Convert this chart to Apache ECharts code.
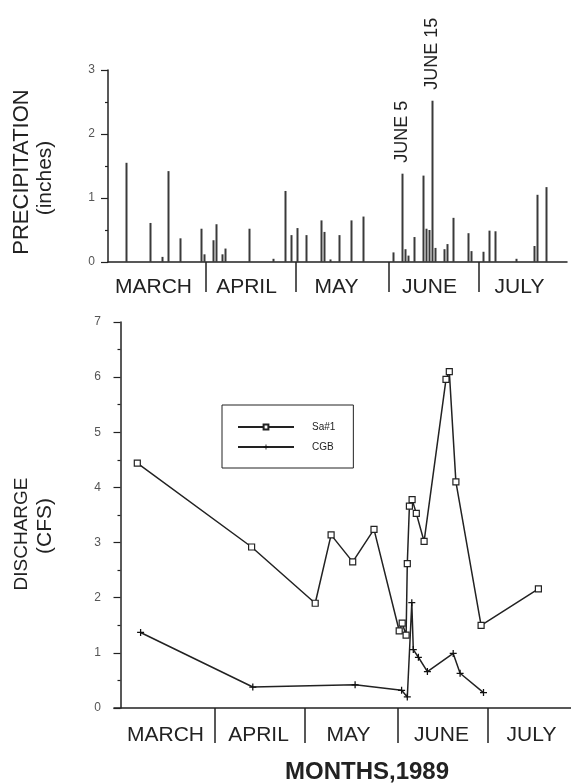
<!DOCTYPE html>
<html><head><meta charset="utf-8">
<script src="https://cdn.jsdelivr.net/npm/echarts@6/dist/echarts.min.js"></script>
<style>html,body{margin:0;padding:0;background:#fff}#c{width:571px;height:784px}</style>
</head><body><div id="c"></div>
<script>
// ---- data ----
const monthNames = ['MARCH', 'APRIL', 'MAY', 'JUNE', 'JULY'];
const monthDays = [31, 30, 31, 30, 31];
// day of season: March 1 = day 1
const precipDays = [5, 13, 17, 19, 23, 30, 31, 34, 35, 37, 38, 46, 54, 58, 60, 62, 65, 70, 71, 73, 76, 80, 84,
  94, 97, 98, 99, 101, 104, 105, 106, 107, 108, 111, 112, 114, 119, 120, 124, 126, 128, 135, 141, 142, 145];
const precipValues = [1.55, 0.61, 0.08, 1.42, 0.37, 0.52, 0.12, 0.34, 0.59, 0.12, 0.21, 0.52, 0.05, 1.11, 0.42, 0.53, 0.42, 0.65, 0.47, 0.04, 0.42, 0.65, 0.71,
  0.15, 1.38, 0.20, 0.10, 0.39, 1.35, 0.52, 0.50, 2.52, 0.22, 0.20, 0.28, 0.69, 0.45, 0.17, 0.16, 0.49, 0.48, 0.05, 0.25, 1.05, 1.17];
const noteDays = [97, 107];
const noteTexts = ['JUNE 5', 'JUNE 15'];
const sa1Days = [5.6, 43.7, 64.9, 70.2, 77.4, 84.5, 92.9, 93.9, 95.2, 95.6, 96.3, 97.2, 98.6, 101.2, 108.5, 109.6, 111.8, 120.2, 139.3];
const sa1Values = [4.44, 2.92, 1.90, 3.14, 2.65, 3.24, 1.40, 1.54, 1.32, 2.62, 3.66, 3.78, 3.53, 3.02, 5.96, 6.10, 4.10, 1.50, 2.16];
const cgbDays = [6.7, 44.1, 78.2, 93.7, 95.6, 97.1, 97.6, 99.3, 102.3, 110.9, 113.2, 121.0];
const cgbValues = [1.37, 0.38, 0.42, 0.32, 0.20, 1.91, 1.06, 0.92, 0.66, 0.99, 0.63, 0.28];
const precipTicks = [0, 1, 2, 3];
const dischargeTicks = [0, 1, 2, 3, 4, 5, 6, 7];

// ---- derived ----
const totalDays = monthDays.reduce((a, b) => a + b, 0);
const dayCats = [];
for (let i = 1; i <= totalDays; i++) dayCats.push('d' + i);
const monthStarts = [];
let acc = 0;
monthDays.forEach(n => { monthStarts.push(acc); acc += n; });
const dividerIdx = monthStarts.slice(1);
const topLabelIdx = monthStarts.map((s, i) => s + Math.floor(monthDays[i] / 2) - 2);
const botLabelIdx = monthStarts.map((s, i) => s + Math.floor(monthDays[i] / 2) - 1);
function monthOf(idx) { let m = 0; for (let i = 0; i < monthStarts.length; i++) if (idx >= monthStarts[i]) m = i; return m; }

const barData = dayCats.map(() => null);
precipDays.forEach((d, i) => { barData[d - 1] = precipValues[i]; });
noteDays.forEach((d, i) => {
  barData[d - 1] = {
    value: barData[d - 1],
    label: { show: true, formatter: noteTexts[i], position: 'top', rotate: 90, align: 'left', verticalAlign: 'middle',
      distance: 11, fontSize: 18, color: '#222', fontFamily: 'Liberation Sans' }
  };
});
const sa1Data = sa1Days.map((d, i) => [d, sa1Values[i]]);
const cgbData = cgbDays.map((d, i) => [d, cgbValues[i]]);

const ink = '#222';
const font = 'Liberation Sans';
const plusPath = 'path://M-0.9,-5 L0.9,-5 L0.9,-0.9 L5,-0.9 L5,0.9 L0.9,0.9 L0.9,5 L-0.9,5 L-0.9,0.9 L-5,0.9 L-5,-0.9 L-0.9,-0.9 Z';

function valueY(max, ticks) {
  return {
    type: 'value', min: 0, max: max, interval: 1,
    axisLine: { show: true, lineStyle: { color: ink, width: 1.5 } },
    axisTick: { show: true, length: 7, lineStyle: { color: ink, width: 1.2 } },
    minorTick: { show: true, splitNumber: 2, length: 3, lineStyle: { color: ink, width: 1.2 } },
    axisLabel: { margin: 13, fontSize: 12, color: '#555', fontFamily: font,
      formatter: v => (ticks.indexOf(v) >= 0 ? String(v) : '') },
    splitLine: { show: false }
  };
}
function monthAxis(gridIndex, tickLen, labelIdx, margin) {
  return {
    type: 'category', gridIndex: gridIndex, data: dayCats, position: 'bottom',
    axisLine: { show: false },
    axisTick: { show: true, length: tickLen, interval: (idx) => dividerIdx.indexOf(idx) >= 0,
      lineStyle: { color: ink, width: 1.5 } },
    axisLabel: { show: true, interval: (idx) => labelIdx.indexOf(idx) >= 0, margin: margin,
      formatter: (v, idx) => monthNames[monthOf(idx)], fontSize: 21, color: ink, fontFamily: font },
    splitLine: { show: false }
  };
}

const chart = echarts.init(document.getElementById('c'), null, { renderer: 'canvas' });
chart.setOption({
  animation: false,
  backgroundColor: '#fff',
  grid: [
    { left: 108, top: 70, width: 459, height: 192, outerBoundsMode: 'none', containLabel: false },   // precip frame
    { left: 113, top: 70, width: 459, height: 192, outerBoundsMode: 'none', containLabel: false },   // precip days
    { left: 114, top: 322, width: 457, height: 386, outerBoundsMode: 'none', containLabel: false },  // discharge frame
    { left: 122, top: 322, width: 459, height: 386, outerBoundsMode: 'none', containLabel: false }   // discharge month axis
  ],
  xAxis: [
    { type: 'value', gridIndex: 0, min: 0, max: 1, axisLine: { show: true, lineStyle: { color: ink, width: 1.5 } },
      axisTick: { show: false }, axisLabel: { show: false }, splitLine: { show: false } },
    monthAxis(1, 30, topLabelIdx, 15),
    { type: 'value', gridIndex: 2, min: -2.1667, max: 150.1667, axisLine: { show: true, lineStyle: { color: ink, width: 1.5 } },
      axisTick: { show: false }, axisLabel: { show: false }, splitLine: { show: false } },
    monthAxis(3, 35, botLabelIdx, 17)
  ],
  yAxis: [
    Object.assign(valueY(3, precipTicks), { gridIndex: 0 }),
    { type: 'value', gridIndex: 1, min: 0, max: 3, show: false },
    Object.assign(valueY(7, dischargeTicks), { gridIndex: 2 }),
    { type: 'value', gridIndex: 3, min: 0, max: 1, show: false }
  ],
  legend: {
    left: 222, top: 405, orient: 'vertical',
    data: ['Sa#1', 'CGB'],
    backgroundColor: '#fff', borderColor: ink, borderWidth: 1,
    padding: [17, 18, 16, 15], itemGap: 10, itemWidth: 56, itemHeight: 6,
    textStyle: { fontSize: 10, color: ink, fontFamily: font, padding: [0, 0, 0, 13] }
  },
  series: [
    { name: 'precip', type: 'bar', xAxisIndex: 1, yAxisIndex: 1, data: barData, barWidth: 2,
      itemStyle: { color: '#3a3a3a' }, silent: true },
    { name: 'Sa#1', type: 'line', xAxisIndex: 2, yAxisIndex: 2, data: sa1Data,
      symbol: 'rect', symbolSize: 6, showAllSymbol: true,
      lineStyle: { color: ink, width: 1.5 },
      itemStyle: { color: '#fff', borderColor: ink, borderWidth: 1.2 }, z: 3 },
    { name: 'CGB', type: 'line', xAxisIndex: 2, yAxisIndex: 2, data: cgbData,
      symbol: plusPath, symbolSize: 7, showAllSymbol: true,
      lineStyle: { color: ink, width: 1.5 },
      itemStyle: { color: '#111' }, z: 3 }
  ],
  graphic: [
    { type: 'text', x: 22, y: 172, rotation: Math.PI / 2,
      style: { text: 'PRECIPITATION', font: '22px "Liberation Sans"', fill: ink, textAlign: 'center', textVerticalAlign: 'middle' } },
    { type: 'text', x: 45, y: 178, rotation: Math.PI / 2,
      style: { text: '(inches)', font: '21px "Liberation Sans"', fill: ink, textAlign: 'center', textVerticalAlign: 'middle' } },
    { type: 'text', x: 22, y: 534, rotation: Math.PI / 2,
      style: { text: 'DISCHARGE', font: '19px "Liberation Sans"', fill: ink, textAlign: 'center', textVerticalAlign: 'middle' } },
    { type: 'text', x: 45, y: 526, rotation: Math.PI / 2,
      style: { text: '(CFS)', font: '21px "Liberation Sans"', fill: ink, textAlign: 'center', textVerticalAlign: 'middle' } },
    { type: 'text', x: 367, y: 772,
      style: { text: 'MONTHS,1989', font: 'bold 24px "Liberation Sans"', fill: ink, textAlign: 'center', textVerticalAlign: 'middle' } }
  ]
});
</script>
</body></html>
